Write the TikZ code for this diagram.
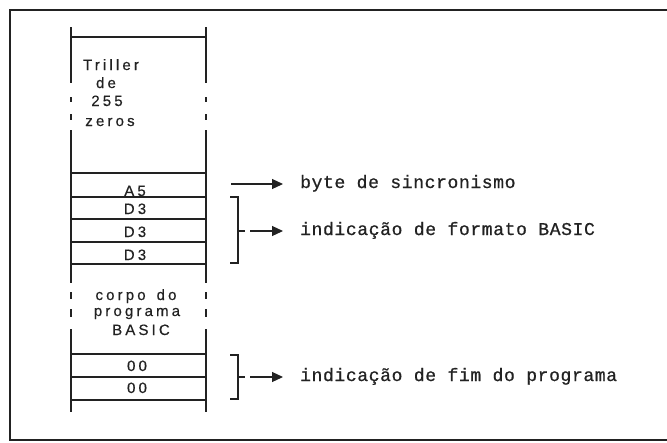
\documentclass[tikz,border=0pt]{standalone}
\usepackage{fontspec}
\usetikzlibrary{arrows.meta}
\newfontfamily\colfont[LetterSpace=21,FakeBold=0.5]{Liberation Sans}
\newfontfamily\labfont[LetterSpace=3.5,FakeBold=0.8]{Liberation Mono}
\definecolor{ink}{HTML}{222222}
\tikzset{
  frame/.style={line width=2pt, draw=ink},
  col/.style={line width=1.3pt, draw=ink},
  celltxt/.style={anchor=base, inner sep=0pt, font=\colfont\fontsize{15}{17}\selectfont, text=ink},
  labtxt/.style={anchor=base west, inner ysep=0pt, inner xsep=0pt, font=\labfont\fontsize{18}{20}\selectfont, text=ink},
  bracket/.style={line width=1.2pt, draw=ink},
  conn/.style={line width=1.2pt, draw=ink, -{Triangle[length=11pt,width=10pt]}},
  dconn/.style={line width=1.2pt, draw=ink, dash pattern=on 7pt off 5pt},
}
\begin{document}
\begin{tikzpicture}[x=1pt,y=-1pt]
\useasboundingbox (0,0) rectangle (667,442);
% outer frame
\draw[frame] (667,10) -- (10,10) -- (10,440) -- (667,440);
% column verticals
\foreach \x in {71,206}{
  \draw[col] (\x,27) -- (\x,83);
  \draw[col] (\x,97) -- (\x,102);
  \draw[col] (\x,114) -- (\x,120);
  \draw[col] (\x,130) -- (\x,283);
  \draw[col] (\x,292) -- (\x,299);
  \draw[col] (\x,309) -- (\x,317);
  \draw[col] (\x,329) -- (\x,412);
}
% column horizontals
\foreach \y in {37,173,197,219,242,264,354,377,400}{
  \draw[col] (71,\y) -- (206,\y);
}
% cell texts
\node[celltxt] (t1) at (111,70) {Triller};
\node[celltxt] (t2) at (106,88) {de};
\node[celltxt] (t3) at (107,106) {255};
\node[celltxt] (t4) at (110,126) {zeros};
\node[celltxt] (a5) at (135,196) {A5};
\node[celltxt] (d1) at (135,214) {D3};
\node[celltxt] (d2) at (135,237) {D3};
\node[celltxt] (d3) at (135,260) {D3};
\node[celltxt] (c1) at (136,300) {corpo\hspace{11pt}do};
\node[celltxt] (c2) at (137,316) {programa};
\node[celltxt] (c3) at (141,335) {BASIC};
\node[celltxt] (z1) at (137,371) {00};
\node[celltxt] (z2) at (137,393) {00};
% labels
\node[labtxt] (l1) at (300,188) {byte de sincronismo};
\node[labtxt] (l2) at (300,235) {indicação de formato BASIC};
\node[labtxt] (l3) at (300,381) {indicação de fim do programa};
% brackets
\draw[bracket] (230,197) -- (238,197) -- (238,263) -- (230,263);
\draw[bracket] (230,355) -- (238,355) -- (238,399) -- (230,399);
\coordinate (b1) at (238,231);
\coordinate (b2) at (238,377);
\coordinate (s1) at (252,231);
\coordinate (s2) at (252,377);
\coordinate (e0) at (231,184);
\coordinate (k0) at (283,184);
\coordinate (k1) at (283,231);
\coordinate (k2) at (283,377);
% connectors
\draw[conn] (e0) -- (k0);
\draw[dconn] (b1) -- (s1);
\draw[conn] (s1) -- (k1);
\draw[dconn] (b2) -- (s2);
\draw[conn] (s2) -- (k2);
\end{tikzpicture}
\end{document}
